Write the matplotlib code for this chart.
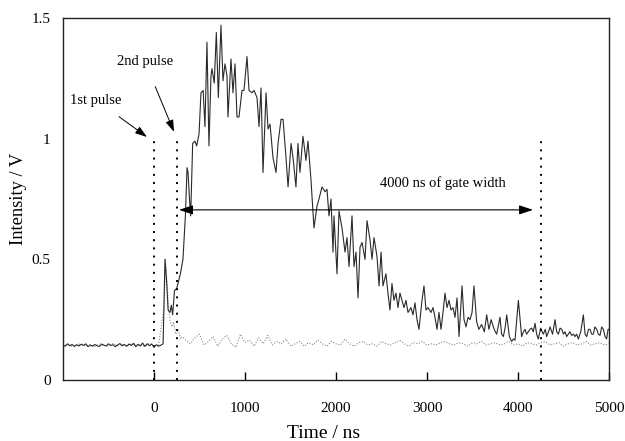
import numpy as np
import matplotlib
matplotlib.use("Agg")
import matplotlib.pyplot as plt

plt.rcParams['font.family'] = ['Liberation Serif', 'DejaVu Serif']

# ---------------- data ----------------
# solid trace: baseline before pulse (25 ns sampling)
solid_base_t = list(range(-1000, 100, 25))
solid_base_v = [0.145, 0.140, 0.150, 0.142, 0.147, 0.139, 0.146, 0.141, 0.148, 0.143,
                0.150, 0.138, 0.145, 0.140, 0.147, 0.142, 0.139, 0.149, 0.144, 0.141,
                0.150, 0.143, 0.146, 0.138, 0.145, 0.151, 0.142, 0.147, 0.140, 0.149,
                0.143, 0.152, 0.138, 0.148, 0.141, 0.153, 0.139, 0.150, 0.142, 0.149,
                0.137, 0.146, 0.140, 0.144]
# solid trace: signal after the pulses
solid_sig_t = [100, 121, 140, 155, 176, 190, 205, 225, 250, 290, 318, 345, 363, 374, 390,
               403, 425, 450, 469, 495, 516, 540, 560, 582, 604, 626, 637, 662, 685, 707,
               736, 758, 780, 802, 813, 846, 868, 890, 912, 934, 967, 989, 1022, 1044, 1077,
               1099, 1132, 1154, 1176, 1198, 1231, 1253, 1275, 1308, 1341, 1363, 1396, 1418,
               1451, 1473, 1506, 1528, 1560, 1582, 1604, 1637, 1670, 1692, 1725, 1758, 1791,
               1813, 1846, 1880, 1901, 1923, 1945, 1967, 1978, 2011, 2033, 2066, 2099, 2121,
               2143, 2176, 2198, 2220, 2242, 2264, 2286, 2319, 2341, 2374, 2396, 2418, 2451,
               2473, 2495, 2516, 2549, 2571, 2593, 2615, 2637, 2659, 2681, 2703, 2725, 2747,
               2769, 2791, 2824, 2846, 2868, 2890, 2912, 2945, 2967, 2989, 3011, 3044, 3066,
               3088, 3110, 3132, 3154, 3176, 3198, 3220, 3242, 3264, 3286, 3308, 3330, 3352,
               3385, 3407, 3429, 3451, 3473, 3495, 3516,
               3546, 3570, 3600, 3630, 3656, 3680, 3705, 3729, 3750, 3766, 3802, 3820, 3839,
               3860, 3876, 3905, 3930, 3950, 3967, 4004, 4040, 4060, 4077, 4095, 4114, 4130,
               4150, 4168, 4187, 4205, 4223, 4249, 4265, 4278, 4300, 4315, 4335, 4352, 4380,
               4407, 4425, 4444, 4462, 4480, 4500, 4516, 4535, 4553, 4570, 4590, 4610, 4626,
               4645, 4663, 4690, 4718, 4737, 4755, 4775, 4791, 4810, 4828, 4845, 4865, 4883,
               4901, 4920, 4938, 4957, 4974, 4990, 5000]
solid_sig_v = [0.15, 0.50, 0.40, 0.29, 0.28, 0.31, 0.27, 0.37, 0.38, 0.44, 0.50, 0.68, 0.88, 0.86, 0.75,
               0.68, 0.98, 0.99, 0.97, 1.02, 1.19, 1.20, 1.05, 1.40, 0.97, 1.26, 1.29, 1.23, 1.44, 1.17,
               1.47, 1.24, 1.31, 1.26, 1.09, 1.33, 1.19, 1.31, 1.09, 1.09, 1.20, 1.20, 1.34, 1.20, 1.19,
               1.20, 1.17, 1.05, 1.21, 0.86, 1.19, 1.04, 1.06, 0.92, 0.86, 0.98, 1.08, 1.08,
               0.92, 0.80, 0.98, 0.92, 0.80, 0.98, 0.86, 1.01, 0.91, 0.99, 0.83, 0.63, 0.72,
               0.75, 0.80, 0.78, 0.79, 0.68, 0.75, 0.53, 0.68, 0.44, 0.70, 0.63, 0.53, 0.59,
               0.47, 0.68, 0.47, 0.53, 0.34, 0.55, 0.57, 0.50, 0.66, 0.58, 0.50, 0.59, 0.51,
               0.39, 0.53, 0.39, 0.44, 0.36, 0.29, 0.40, 0.33, 0.36, 0.30, 0.36, 0.33, 0.30,
               0.33, 0.28, 0.30, 0.27, 0.32, 0.25, 0.21, 0.33, 0.39, 0.29, 0.30, 0.28, 0.30,
               0.26, 0.21, 0.28, 0.21, 0.28, 0.36, 0.30, 0.33, 0.29, 0.30, 0.26, 0.34, 0.18,
               0.39, 0.25, 0.22, 0.26, 0.25, 0.28, 0.39,
               0.24, 0.21, 0.23, 0.20, 0.27, 0.21, 0.25, 0.22, 0.20, 0.19, 0.26, 0.19, 0.18,
               0.22, 0.27, 0.18, 0.16, 0.17, 0.165, 0.33, 0.18, 0.20, 0.21, 0.19, 0.20, 0.21,
               0.215, 0.20, 0.235, 0.19, 0.17, 0.215, 0.20, 0.19, 0.21, 0.18, 0.20, 0.22, 0.19,
               0.25, 0.20, 0.19, 0.215, 0.21, 0.19, 0.20, 0.18, 0.19, 0.20, 0.185, 0.19, 0.18,
               0.19, 0.17, 0.20, 0.27, 0.19, 0.18, 0.21, 0.21, 0.19, 0.19, 0.22, 0.21, 0.19,
               0.185, 0.22, 0.21, 0.18, 0.17, 0.21, 0.21]

# dotted trace (single pulse)
dot_base_t = list(range(-1000, 100, 50))
dot_base_v = [0.143, 0.148, 0.140, 0.146, 0.150, 0.141, 0.147, 0.139, 0.149, 0.144,
              0.140, 0.151, 0.142, 0.148, 0.139, 0.150, 0.143, 0.146, 0.140, 0.152,
              0.141, 0.145]
dot_pulse_t = [110, 125, 140, 160, 180, 200, 215, 240, 266, 290, 310]
dot_pulse_v = [0.30, 0.50, 0.42, 0.30, 0.24, 0.22, 0.24, 0.19, 0.21, 0.17, 0.18]
dot_tail_t = list(range(350, 5001, 50))
dot_tail_v = [0.165, 0.150, 0.175, 0.190, 0.145, 0.160, 0.180, 0.140, 0.170, 0.185,
              0.150, 0.135, 0.190, 0.155, 0.165, 0.140, 0.175, 0.150, 0.185, 0.145,
              0.160, 0.150, 0.170, 0.140,
              0.150, 0.160, 0.140, 0.155, 0.145, 0.165, 0.150, 0.140, 0.160, 0.150,
              0.145, 0.170, 0.150, 0.140, 0.155, 0.160, 0.145, 0.150, 0.140, 0.160,
              0.150, 0.145, 0.155, 0.165, 0.150, 0.140, 0.155, 0.150, 0.160, 0.145,
              0.150, 0.145, 0.155, 0.160, 0.150, 0.145, 0.155, 0.150, 0.140, 0.155,
              0.150, 0.160, 0.145, 0.150, 0.155, 0.145, 0.150, 0.160, 0.145, 0.150,
              0.140, 0.155, 0.150, 0.145, 0.155, 0.160, 0.145, 0.150, 0.155, 0.140,
              0.150, 0.155, 0.145, 0.150, 0.160, 0.145, 0.150, 0.155, 0.145, 0.150]

pulse_lines = [0, 250, 4250]
pulse_top = 1.0
gate_y = 0.705
gate_start, gate_end = 275, 4165

x_ticks = [0, 1000, 2000, 3000, 4000, 5000]
y_ticks = [0, 0.5, 1, 1.5]
y_tick_labels = ['0', '0.5', '1', '1.5']

# ---------------- plot ----------------
solid_t = solid_base_t + solid_sig_t
solid_v = solid_base_v + solid_sig_v
dot_t = dot_base_t + dot_pulse_t + dot_tail_t
dot_v = dot_base_v + dot_pulse_v + dot_tail_v
assert len(solid_t) == len(solid_v)
assert len(dot_t) == len(dot_v)

fig = plt.figure(figsize=(6.25, 4.41), dpi=100)
ax = fig.add_axes([63/625, 1-380/441, (609-63)/625, (380-18)/441])

ax.plot(dot_t, dot_v, color='#8a8a8a', lw=0.8, ls=(0, (1, 1.5)))
ax.plot(solid_t, solid_v, color='#2a2a2a', lw=0.8)

for xp in pulse_lines:
    ax.plot([xp, xp], [0, pulse_top], color='black', lw=1.4, ls=(0, (1, 3.2)))

ax.annotate('', xy=(gate_start, gate_y), xytext=(gate_end, gate_y),
            arrowprops=dict(arrowstyle='<|-|>,head_length=0.6,head_width=0.2',
                            mutation_scale=14, lw=0.8, color='black',
                            shrinkA=0, shrinkB=0))
ax.text(3176, 0.816, '4000 ns of gate width', ha='center', va='center', fontsize=10.5)

ax.annotate('1st pulse', xy=(-77, 1.007), xytext=(-637, 1.16),
            ha='center', va='center', fontsize=10.5,
            arrowprops=dict(arrowstyle='-|>,head_length=0.6,head_width=0.2',
                            mutation_scale=12, lw=0.7, color='black',
                            shrinkA=9, shrinkB=0))
ax.annotate('2nd pulse', xy=(220, 1.028), xytext=(-99, 1.318),
            ha='center', va='center', fontsize=10.5,
            arrowprops=dict(arrowstyle='-|>,head_length=0.6,head_width=0.2',
                            mutation_scale=12, lw=0.7, color='black',
                            shrinkA=12, shrinkB=0))

ax.set_xlim(-1000, 5000)
ax.set_ylim(0, 1.5)
ax.set_xticks(x_ticks)
ax.set_xticklabels([str(v) for v in x_ticks])
ax.set_yticks(y_ticks)
ax.set_yticklabels(y_tick_labels)
ax.tick_params(axis='x', direction='in', length=6, width=1, pad=15.5, labelsize=11)
ax.tick_params(axis='y', direction='in', length=0, pad=9, labelsize=11)
for s in ax.spines.values():
    s.set_linewidth(1.0)
    s.set_color('#222222')

ax.set_xlabel('Time / ns', fontsize=14)
ax.xaxis.set_label_coords(0.478, -0.124)
ax.set_ylabel('Intensity / V', fontsize=13.3)
ax.yaxis.set_label_coords(-0.066, 0.5)

fig.savefig('out.png', dpi=100)
